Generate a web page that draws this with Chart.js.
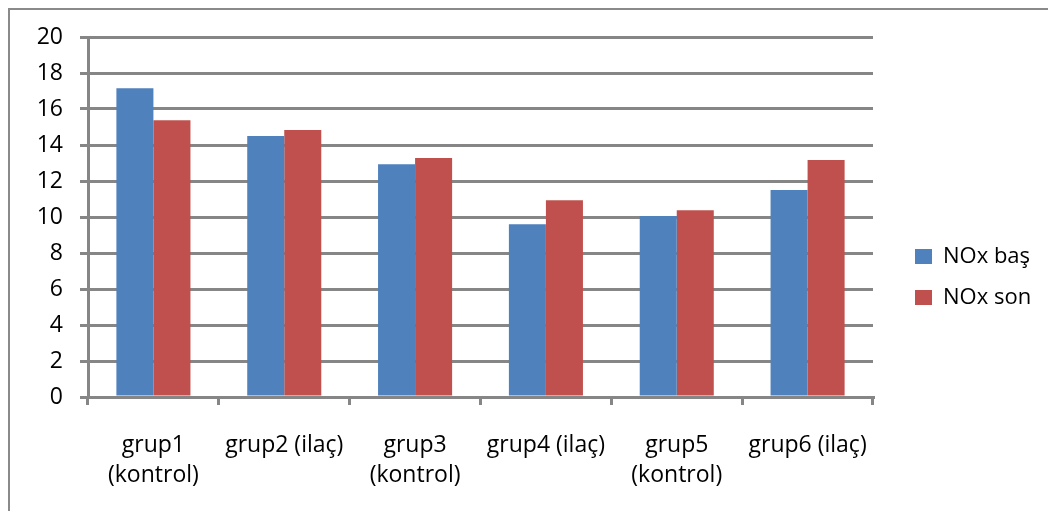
<!DOCTYPE HTML>
<html>
<head>
  <meta charset="UTF-8">
  <script src="https://cdn.jsdelivr.net/npm/chart.js"></script>
  <style>
    html, body {
      margin: 0;
      padding: 0;
      background: #fff;
    }
    .frame {
      position: absolute;
      left: 8px;
      top: 8px;
      width: 1100px;
      height: 600px;
      border-left: 2px solid #8a8a8a;
      border-top: 2px solid #8a8a8a;
    }
    .chart-container {
      position: absolute;
      left: 0;
      top: 0;
      width: 1048px;
      height: 511px;
    }
  </style>
</head>
<body>
  <div class="frame"></div>
  <div class="chart-container">
    <canvas id="noxChart" width="1048" height="511"></canvas>
  </div>

<script>
  const categories = [
    ['grup1', '(kontrol)'],
    'grup2 (ilaç)',
    ['grup3', '(kontrol)'],
    'grup4 (ilaç)',
    ['grup5', '(kontrol)'],
    'grup6 (ilaç)'
  ];
  const noxBas = [17.15, 14.5, 12.93, 9.6, 10.06, 11.5];
  const noxSon = [15.37, 14.83, 13.28, 10.93, 10.37, 13.17];
  const yTicks = [0, 2, 4, 6, 8, 10, 12, 14, 16, 18, 20];

  const gray = '#868686';
  const fontFamily = '"Open Sans", sans-serif';

  // push the legend to where Excel put it, without stealing plot width
  const legendPlace = {
    id: 'legendPlace',
    afterInit(chart) {
      const legend = chart.legend;
      const fit = legend.fit;
      legend.fit = function() {
        fit.call(this);
        this.width = 1048 - 873;
      };
    },
    afterLayout(chart) {
      const legend = chart.legend;
      const dx = 915 - (legend.left + 19);
      legend.left += dx;
      legend.right += dx;
      legend.top += 3;
      legend.bottom += 3;
    }
  };

  const ctx = document.getElementById('noxChart').getContext('2d');
  const chart = new Chart(ctx, {
    type: 'bar',
    data: {
      labels: categories,
      datasets: [{
        label: 'NOx baş',
        data: noxBas,
        backgroundColor: '#4F81BD'
      }, {
        label: 'NOx son',
        data: noxSon,
        backgroundColor: '#C0504D'
      }]
    },
    options: {
      responsive: false,
      animation: false,
      datasets: {
        bar: {
          categoryPercentage: 0.566,
          barPercentage: 1.0
        }
      },
      layout: {
        padding: { top: 37, left: 0, right: 0, bottom: 0 }
      },
      plugins: {
        legend: {
          position: 'right',
          labels: {
            boxWidth: 17,
            boxHeight: 15,
            padding: 19,
            color: '#000',
            font: { family: fontFamily, size: 22 }
          }
        },
        tooltip: { enabled: false }
      },
      scales: {
        x: {
          grid: {
            offset: true,
            drawOnChartArea: false,
            drawTicks: true,
            tickLength: 8,
            color: gray,
            lineWidth: 3
          },
          border: { display: true, color: gray, width: 3 },
          ticks: {
            color: '#000',
            padding: 26,
            maxRotation: 0,
            autoSkip: false,
            font: { family: fontFamily, size: 23, lineHeight: 1.28 }
          },
          afterFit(scale) {
            scale.height = 511 - 397;
          }
        },
        y: {
          min: 0,
          max: 20,
          afterBuildTicks(scale) {
            scale.ticks = yTicks.map(v => ({ value: v }));
          },
          grid: {
            drawTicks: true,
            tickLength: 8,
            color: gray,
            lineWidth: 3
          },
          border: { display: true, color: gray, width: 3 },
          ticks: {
            color: '#000',
            padding: 17,
            font: { family: fontFamily, size: 23 }
          },
          afterFit(scale) {
            scale.width = 88;
          }
        }
      }
    },
    plugins: [legendPlace]
  });
</script>
</body>
</html>
